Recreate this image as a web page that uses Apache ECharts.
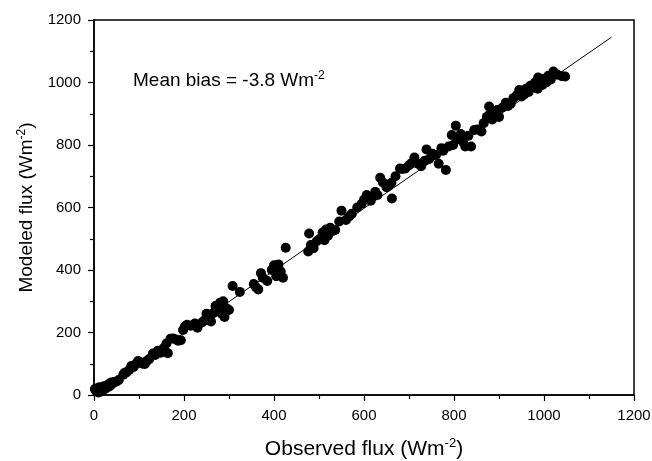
<!DOCTYPE html>
<html>
<head>
<meta charset="utf-8">
<script src="https://cdn.jsdelivr.net/npm/echarts@6/dist/echarts.min.js"></script>
<style>
html, body { margin: 0; padding: 0; background: #fff; }
#cn { width: 652px; height: 461px; }
</style>
</head>
<body>
<div id="cn"></div>
<script>
'use strict';

// observed / modeled flux pairs (Wm-2)
const obsFlux = [
    2, 5, 8, 10, 12, 15, 16, 18, 20, 22, 25, 28, 30, 33, 35, 38, 40, 45, 50, 55,
    65, 68, 72, 78, 83, 88, 92, 98, 103, 108, 113, 118, 123, 131, 136, 142, 148, 155, 161, 164,
    170, 176, 182, 187, 193, 198, 202, 207, 215, 224, 230, 240, 245, 250, 255, 260, 265, 270, 272, 276,
    280, 284, 287, 290, 294, 300, 308, 324, 355, 360, 365, 371, 375, 385, 395, 400, 405, 410, 415, 420,
    426, 476, 478, 482, 488, 495, 502, 508, 512, 516, 520, 525, 530, 536, 545, 550, 560, 567, 573, 585,
    595, 600, 606, 615, 620, 625, 630, 636, 642, 650, 655, 661, 662, 670, 680, 685, 692, 700, 706, 712,
    720, 727, 735, 739, 745, 752, 760, 766, 772, 776, 782, 788, 795, 798, 804, 808, 815, 820, 825, 832,
    838, 845, 852, 861, 866, 873, 878, 880, 885, 890, 896, 900, 908, 915, 920, 926, 932, 940, 945, 950,
    956, 960, 966, 970, 976, 980, 986, 987, 990, 996, 1000, 1005, 1010, 1015, 1021, 1030, 1040, 1047
];
const modFlux = [
    19, 12, 22, 8, 25, 15, 21, 12, 18, 28, 20, 30, 25, 35, 28, 40, 35, 42, 43, 48,
    65, 71, 72, 80, 93, 90, 98, 109, 105, 100, 99, 110, 115, 133, 128, 142, 135, 150, 165, 134,
    180, 181, 178, 174, 175, 208, 219, 225, 222, 229, 215, 232, 238, 260, 240, 235, 262, 285, 270, 268,
    295, 260, 300, 250, 278, 272, 349, 330, 355, 345, 338, 390, 375, 365, 400, 415, 380, 418, 395, 375,
    471, 459, 517, 480, 470, 492, 500, 520, 495, 530, 510, 535, 525, 528, 555, 590, 560, 571, 580, 600,
    612, 625, 640, 622, 635, 650, 640, 695, 680, 665, 670, 679, 629, 700, 725, 723, 725, 735, 742, 760,
    740, 732, 750, 786, 755, 772, 768, 740, 790, 782, 720, 795, 832, 800, 862, 820, 835, 810, 795, 830,
    795, 848, 850, 843, 870, 890, 923, 900, 882, 905, 912, 890, 920, 935, 925, 932, 950, 960, 976, 955,
    962, 980, 970, 990, 985, 1000, 980, 1016, 1005, 992, 1012, 1000, 1022, 1010, 1035, 1025, 1020, 1019
];

// 1:1 line
const lineX = [0, 1150];
const lineY = [0, 1145];

const xTicks = [0, 200, 400, 600, 800, 1000, 1200];
const yTicks = [0, 200, 400, 600, 800, 1000, 1200];

const fontFam = '"Liberation Sans", Arial, Helvetica, sans-serif';

const chart = echarts.init(document.getElementById('cn'), null, { renderer: 'canvas' });

const axisCommon = {
    type: 'value',
    min: 0,
    max: 1200,
    interval: 200,
    nameLocation: 'middle',
    axisLine: { show: true, lineStyle: { color: '#000', width: 1.5 } },
    axisTick: { show: true, inside: false, length: 6, lineStyle: { color: '#000', width: 1.2 } },
    minorTick: { show: true, splitNumber: 2, length: 4, lineStyle: { color: '#000', width: 1.2 } },
    splitLine: { show: false },
    minorSplitLine: { show: false },
    axisLabel: {
        color: '#000',
        fontSize: 15,
        fontFamily: fontFam
    }
};

const nameRich = (big, small) => ({
    a: { fontSize: big, fontFamily: fontFam, color: '#000' },
    s: { fontSize: small, fontFamily: fontFam, color: '#000', padding: [0, 0, 11, 0] }
});

const option = {
    backgroundColor: '#fff',
    animation: false,
    title: {
        text: '{a|Mean bias = -3.8 Wm}{s|-2}',
        left: 133,
        top: 70,
        padding: 0,
        textStyle: {
            fontWeight: 'normal',
            rich: {
                a: { fontSize: 19, fontFamily: fontFam, color: '#000', fontWeight: 'normal' },
                s: { fontSize: 12, fontFamily: fontFam, color: '#000', fontWeight: 'normal', padding: [0, 0, 10, 0] }
            }
        }
    },
    grid: {
        left: 94,
        right: 18,
        top: 20,
        bottom: 66,
        outerBoundsMode: 'none',
        show: true,
        borderColor: '#000',
        borderWidth: 1.5,
        backgroundColor: 'transparent'
    },
    xAxis: Object.assign({}, axisCommon, {
        name: '{a|Observed flux (Wm}{s|-2}{a|)}',
        nameGap: 42,
        nameTextStyle: { rich: nameRich(21, 13) },
        axisLabel: Object.assign({}, axisCommon.axisLabel, {
            margin: 13,
            formatter: v => xTicks.includes(v) ? String(v) : ''
        })
    }),
    yAxis: Object.assign({}, axisCommon, {
        name: '{a|Modeled flux (Wm}{s|-2}{a|)}',
        nameGap: 54,
        nameTextStyle: { rich: nameRich(19, 12) },
        axisLabel: Object.assign({}, axisCommon.axisLabel, {
            margin: 13,
            formatter: v => yTicks.includes(v) ? String(v) : ''
        })
    }),
    series: [
        {
            name: 'fit',
            type: 'line',
            data: lineX.map((x, i) => [x, lineY[i]]),
            symbol: 'none',
            lineStyle: { color: '#000', width: 1 },
            z: 1
        },
        {
            name: 'flux',
            type: 'scatter',
            data: obsFlux.map((x, i) => [x, modFlux[i]]),
            symbol: 'circle',
            symbolSize: 10,
            itemStyle: { color: '#000', opacity: 1 },
            z: 2
        }
    ]
};

chart.setOption(option);
</script>
</body>
</html>
